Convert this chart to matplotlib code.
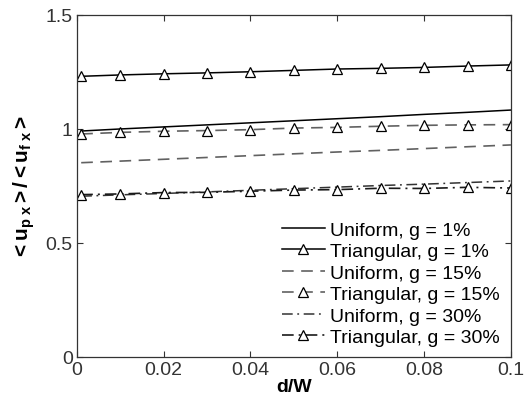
import matplotlib
matplotlib.use("Agg")
import matplotlib.pyplot as plt

plt.rcParams["font.family"] = ["Liberation Sans", "DejaVu Sans"]
plt.rcParams["mathtext.fontset"] = "custom"
plt.rcParams["mathtext.rm"] = "Liberation Sans"
plt.rcParams["mathtext.it"] = "Liberation Sans"
plt.rcParams["mathtext.bf"] = "Liberation Sans:bold"

# d/W sample points (first point just off zero)
d_over_w = [0.001, 0.01, 0.02, 0.03, 0.04, 0.05, 0.06, 0.07, 0.08, 0.09, 0.1]

uniform_g1 = [0.991, 1.000, 1.009, 1.018, 1.027, 1.036, 1.045, 1.054, 1.064, 1.073, 1.083]
triangular_g1 = [1.231, 1.237, 1.242, 1.246, 1.251, 1.257, 1.263, 1.266, 1.270, 1.276, 1.281]
uniform_g15 = [0.852, 0.859, 0.867, 0.875, 0.883, 0.891, 0.899, 0.906, 0.914, 0.922, 0.930]
triangular_g15 = [0.978, 0.985, 0.990, 0.993, 0.997, 1.004, 1.007, 1.012, 1.016, 1.018, 1.019]
uniform_g30 = [0.705, 0.711, 0.717, 0.724, 0.731, 0.738, 0.745, 0.752, 0.758, 0.765, 0.772]
triangular_g30 = [0.712, 0.715, 0.721, 0.722, 0.727, 0.732, 0.734, 0.740, 0.739, 0.744, 0.741]

labels = [
    "Uniform, g = 1%",
    "Triangular, g = 1%",
    "Uniform, g = 15%",
    "Triangular, g = 15%",
    "Uniform, g = 30%",
    "Triangular, g = 30%",
]

DASH = (7, 4.5)
DASHDOT = (7, 3, 1.2, 3)
FS = 14

fig = plt.figure(figsize=(5.3, 4.1), dpi=100)
ax = fig.add_axes([0.145, 0.127, 0.819, 0.834])

tri = dict(marker="^", markersize=6.5, markerfacecolor="white",
           markeredgecolor="black", markeredgewidth=0.9)

ax.plot(d_over_w, uniform_g1, color="black", lw=1.1, label=labels[0])
ax.plot(d_over_w, triangular_g1, color="black", lw=1.1, label=labels[1], **tri)
ax.plot(d_over_w, uniform_g15, color="0.38", lw=1.2, dashes=DASH, label=labels[2])
ax.plot(d_over_w, triangular_g15, color="0.38", lw=1.2, dashes=DASH,
        label=labels[3], **tri)
ax.plot(d_over_w, uniform_g30, color="0.2", lw=1.1, dashes=DASHDOT, label=labels[4])
ax.plot(d_over_w, triangular_g30, color="0.1", lw=1.2, dashes=DASHDOT,
        label=labels[5], **tri)

ax.set_xlim(0, 0.1)
ax.set_ylim(0, 1.5)
ax.set_xticks([0, 0.02, 0.04, 0.06, 0.08, 0.1])
ax.set_xticklabels(["0", "0.02", "0.04", "0.06", "0.08", "0.1"])
ax.set_yticks([0, 0.5, 1, 1.5])
ax.set_yticklabels(["0", "0.5", "1", "1.5"])
ax.tick_params(direction="in", top=True, right=True, length=4, width=0.8,
               labelsize=FS, colors="0.2", pad=3)
for spine in ax.spines.values():
    spine.set_linewidth(0.9)
    spine.set_color("0.2")

ax.set_xlabel("d/W", fontsize=FS, fontweight="bold", labelpad=0)
ax.set_ylabel(r"$\mathbf{{<}u_{p\ x}{>}/{<}u_{f\ x}{>}}$", fontsize=15, labelpad=6)

ax.legend(loc="lower right", frameon=False, fontsize=FS, handlelength=2.2,
          handletextpad=0.3, labelspacing=0.2, borderaxespad=0.15,
          bbox_to_anchor=(1.0, 0.0))

fig.savefig("out.png", dpi=100)
